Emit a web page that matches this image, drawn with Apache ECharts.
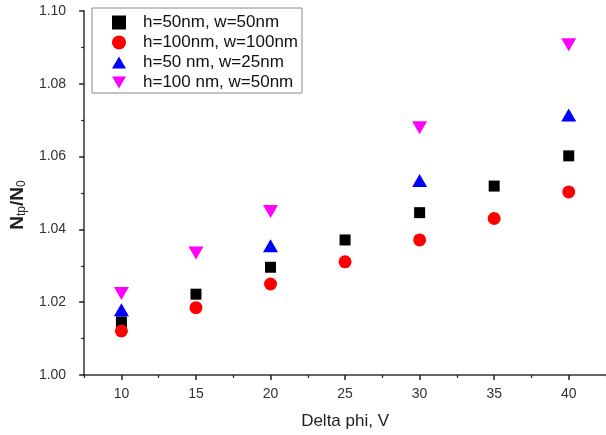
<!DOCTYPE html>
<html>
<head>
<meta charset="utf-8">
<script src="https://cdn.jsdelivr.net/npm/echarts@6/dist/echarts.min.js"></script>
<style>html,body{margin:0;padding:0;background:#fff}#c{width:606px;height:435px}</style>
</head>
<body>
<div id="c"></div>
<script>
const xValues = [10, 15, 20, 25, 30, 35, 40];
const seriesNames = ['h=50nm, w=50nm', 'h=100nm, w=100nm', 'h=50 nm, w=25nm', 'h=100 nm, w=50nm'];
const blackSquares = [1.0146, 1.0222, 1.0296, 1.0371, 1.0446, 1.0519, 1.0602];
const redCircles = [1.0121, 1.0185, 1.0250, 1.0311, 1.0371, 1.0430, 1.0503];
const blueUpX = [10, 20, 30, 40];
const blueUp = [1.0179, 1.0355, 1.0534, 1.0714];
const magentaDownX = [10, 15, 20, 30, 40];
const magentaDown = [1.0224, 1.0335, 1.0449, 1.0679, 1.0907];
const xMajorTicks = [10, 15, 20, 25, 30, 35, 40];
const xMinorTicks = [7.5, 12.5, 17.5, 22.5, 27.5, 32.5, 37.5, 42.5];

const pair = (xs, ys) => xs.map((x, i) => [x, ys[i]]);
const downTri = 'path://M0,0 L10,0 L5,8.66 Z';
const upTri = 'path://M5,0 L10,8.66 L0,8.66 Z';

const chart = echarts.init(document.getElementById('c'), null, {renderer: 'canvas'});
const font = 'Liberation Sans, Arial, sans-serif';
chart.setOption({
  animation: false,
  backgroundColor: '#fff',
  grid: {left: 81, top: 11, right: -1, bottom: 60, containLabel: false},
  legend: {
    orient: 'vertical', left: 92, top: 8,
    borderColor: '#888', borderWidth: 1,
    padding: [6, 4, 2, 20],
    itemGap: 3, itemWidth: 14, itemHeight: 14,
    textStyle: {fontFamily: font, fontSize: 17, lineHeight: 14, color: '#111', padding: [0, 0, 0, 12]},
    data: seriesNames
  },
  xAxis: [{
    type: 'value', min: 7.5, max: 42.5,
    name: 'Delta phi, V', nameLocation: 'middle', nameGap: 38,
    nameTextStyle: {fontFamily: font, fontSize: 17, color: '#222'},
    axisLine: {lineStyle: {color: '#333', width: 1.5}},
    axisTick: {show: true, length: 5, customValues: xMajorTicks, lineStyle: {color: '#222', width: 1.5}},
    axisLabel: {customValues: xMajorTicks, fontFamily: font, fontSize: 14, color: '#333', margin: 12},
    splitLine: {show: false}
  }, {
    type: 'value', min: 7.5, max: 42.5, position: 'bottom',
    axisLine: {show: false},
    axisTick: {show: true, length: 3, customValues: xMinorTicks, lineStyle: {color: '#222', width: 1.2}},
    axisLabel: {show: false},
    splitLine: {show: false}
  }],
  yAxis: {
    type: 'value', min: 1.00, max: 1.10, interval: 0.02,
    name: '{n|N}{s|tp}{n|/N}{s|0}', nameLocation: 'middle', nameGap: 54, nameRotate: 90,
    nameTextStyle: {
      padding: [0, 24, 0, 0],
      rich: {
        n: {fontFamily: font, fontSize: 19, fontWeight: 'bold', color: '#222'},
        s: {fontFamily: font, fontSize: 12, color: '#222', verticalAlign: 'bottom', padding: [9, 0, 0, 0]}
      }
    },
    axisLine: {show: true, lineStyle: {color: '#333', width: 1.5}},
    axisTick: {show: true, length: 5, lineStyle: {color: '#222', width: 1.5}},
    minorTick: {show: true, splitNumber: 2, length: 3, lineStyle: {color: '#222', width: 1.2}},
    axisLabel: {fontFamily: font, fontSize: 14, color: '#333', margin: 18, formatter: v => v.toFixed(2)},
    splitLine: {show: false}
  },
  series: [
    {name: seriesNames[0], type: 'scatter', symbol: 'rect', symbolSize: 11,
     itemStyle: {color: '#000', opacity: 1}, data: pair(xValues, blackSquares)},
    {name: seriesNames[1], type: 'scatter', symbol: 'circle', symbolSize: 13,
     itemStyle: {color: '#ff0000', opacity: 1}, data: pair(xValues, redCircles)},
    {name: seriesNames[2], type: 'scatter', symbol: upTri, symbolSize: [15, 13],
     itemStyle: {color: '#0000ff', opacity: 1}, data: pair(blueUpX, blueUp)},
    {name: seriesNames[3], type: 'scatter', symbol: downTri, symbolSize: [15, 13],
     itemStyle: {color: '#ff00ff', opacity: 1}, data: pair(magentaDownX, magentaDown)}
  ]
});
</script>
</body>
</html>
